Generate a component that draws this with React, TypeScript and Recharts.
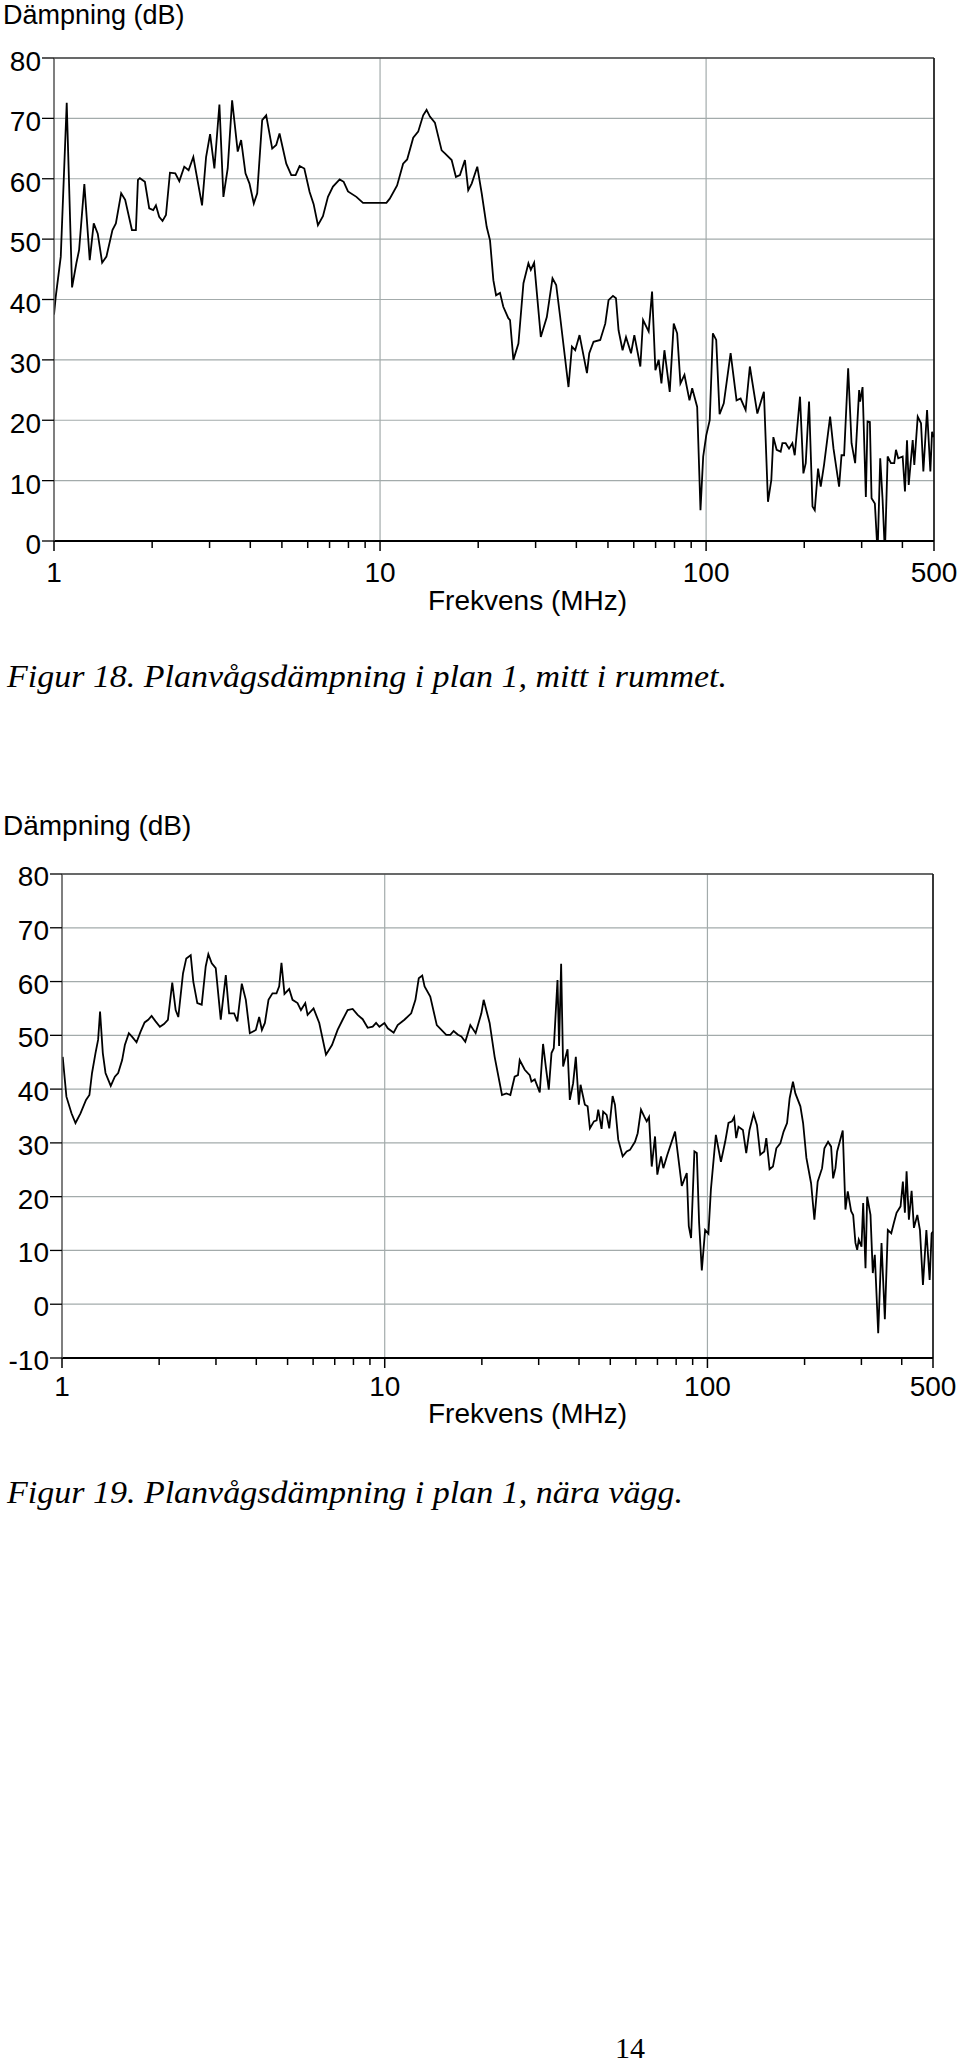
import { LineChart, Line, XAxis, YAxis, CartesianGrid, ReferenceLine } from 'recharts';

const SANS = '"Liberation Sans", Arial, sans-serif';
const SERIF = '"Liberation Serif", "Times New Roman", serif';

// x axis ticks (MHz), labelled ones and the minor ones
const xMajor = [1, 10, 100, 500];
const xTicks = [1, 2, 3, 4, 5, 6, 7, 8, 9, 10, 20, 30, 40, 50, 60, 70, 80, 90, 100, 200, 300, 400, 500];
const yTicks18 = [0, 10, 20, 30, 40, 50, 60, 70, 80];
const yTicks19 = [-10, 0, 10, 20, 30, 40, 50, 60, 70, 80];

// Figur 18 - mitt i rummet
const freq18 = [
  1.0, 1.012, 1.049, 1.094, 1.136, 1.171, 1.194, 1.239, 1.287, 1.324,
  1.362, 1.405, 1.448, 1.511, 1.548, 1.607, 1.653, 1.734, 1.783, 1.809,
  1.834, 1.9, 1.959, 2.015, 2.054, 2.102, 2.152, 2.205, 2.268, 2.355,
  2.423, 2.509, 2.587, 2.675, 2.845, 2.927, 3.011, 3.104, 3.216, 3.308,
  3.41, 3.518, 3.66, 3.749, 3.866, 3.977, 4.1, 4.2, 4.35, 4.475,
  4.669, 4.803, 4.917, 5.157, 5.343, 5.508, 5.666, 5.857, 6.081, 6.256,
  6.449, 6.681, 6.922, 7.171, 7.519, 7.735, 7.974, 8.462, 8.866, 10.46,
  10.71, 11.28, 11.77, 12.11, 12.64, 13.09, 13.56, 13.89, 14.22, 14.73,
  15.45, 15.81, 16.58, 17.09, 17.58, 18.21, 18.64, 19.1, 19.87, 20.5,
  21.24, 21.74, 22.26, 22.69, 23.33, 23.88, 24.74, 25.04, 25.64, 26.57,
  27.53, 28.51, 29.0, 29.69, 31.12, 32.47, 33.8, 34.69, 35.68, 37.84,
  38.77, 39.68, 40.91, 43.11, 43.82, 45.16, 47.35, 49.06, 50.21, 51.8,
  52.91, 53.89, 55.44, 56.8, 58.85, 60.24, 62.85, 64.07, 66.66, 68.28,
  69.9, 71.55, 72.94, 74.5, 77.35, 79.57, 81.51, 83.43, 85.83, 88.92,
  90.64, 93.89, 96.11, 97.97, 100.1, 102.6, 104.9, 107.4, 110.0, 113.3,
  118.9, 124.0, 127.6, 132.2, 136.2, 143.6, 150.4, 154.8, 158.5, 160.8,
  164.6, 169.3, 171.4, 175.4, 179.6, 183.9, 187.0, 194.1, 198.8, 202.1,
  206.9, 212.0, 215.4, 220.5, 224.7, 230.0, 240.1, 245.9, 255.8, 260.2,
  265.0, 272.7, 279.3, 286.5, 294.7, 296.8, 301.9, 309.0, 312.7, 317.9,
  321.7, 329.3, 335.7, 342.0, 347.8, 353.5, 360.4, 368.9, 377.6, 382.2,
  388.4, 400.7, 407.3, 413.2, 418.2, 430.2, 435.1, 445.7, 456.2, 463.8,
  476.1, 487.3, 493.2, 499.2,
];
const db18 = [
  37.5, 40.4, 47.1, 72.6, 42.0, 46.0, 48.2, 59.1, 46.5, 52.6,
  50.9, 46.1, 47.1, 51.5, 52.6, 57.6, 56.5, 51.5, 51.5, 59.8,
  60.1, 59.5, 55.1, 54.8, 55.6, 53.7, 53.0, 54.0, 61.0, 60.9,
  59.6, 62.0, 61.4, 63.6, 55.6, 63.6, 67.4, 61.7, 72.3, 57.0,
  61.7, 73.0, 64.5, 66.4, 60.9, 59.2, 55.9, 57.6, 69.7, 70.5,
  65.0, 65.6, 67.5, 62.5, 60.6, 60.6, 62.1, 61.7, 57.8, 55.8,
  52.3, 53.8, 57.0, 58.7, 59.9, 59.5, 57.9, 57.0, 56.0, 56.0,
  56.7, 58.9, 62.5, 63.2, 66.8, 67.8, 70.5, 71.4, 70.3, 69.3,
  64.7, 64.2, 63.1, 60.3, 60.6, 63.1, 58.1, 59.2, 62.0, 57.6,
  52.0, 49.8, 43.2, 40.7, 41.1, 38.8, 36.9, 36.6, 30.0, 32.7,
  42.7, 46.0, 44.9, 46.1, 33.8, 37.1, 43.5, 42.4, 37.1, 25.5,
  32.2, 31.6, 34.1, 27.8, 31.1, 33.0, 33.3, 36.0, 39.9, 40.6,
  40.2, 34.9, 31.6, 33.8, 31.1, 34.1, 28.9, 36.6, 34.7, 41.3,
  28.3, 30.0, 26.1, 31.6, 24.7, 36.0, 34.4, 26.1, 27.5, 23.3,
  25.3, 22.2, 5.1, 14.0, 17.5, 20.0, 34.4, 33.3, 21.0, 22.8,
  31.1, 23.3, 23.6, 21.7, 28.9, 21.1, 24.7, 6.5, 10.1, 17.2,
  15.1, 14.8, 16.2, 16.2, 15.3, 16.2, 14.2, 23.9, 11.2, 12.9,
  23.1, 5.7, 5.1, 12.0, 9.0, 12.6, 20.6, 15.3, 9.0, 14.2,
  14.2, 28.6, 16.2, 12.9, 25.0, 23.1, 25.5, 7.3, 19.8, 19.7,
  7.1, 6.2, -2, 13.7, 6.8, -2, 14.0, 12.9, 12.9, 15.1,
  13.7, 14.0, 8.2, 16.7, 9.3, 16.7, 12.6, 20.6, 19.5, 11.5,
  21.7, 11.5, 18.1, 17.2,
];

// Figur 19 - nära vägg
const freq19 = [
  1.005, 1.032, 1.07, 1.101, 1.141, 1.187, 1.216, 1.239, 1.27, 1.294,
  1.312, 1.338, 1.364, 1.416, 1.458, 1.493, 1.536, 1.566, 1.611, 1.65,
  1.702, 1.752, 1.803, 1.85, 1.895, 1.95, 2.011, 2.07, 2.129, 2.196,
  2.25, 2.293, 2.371, 2.427, 2.505, 2.552, 2.626, 2.71, 2.788, 2.841,
  2.911, 2.995, 3.104, 3.218, 3.295, 3.414, 3.494, 3.607, 3.712, 3.819,
  3.987, 4.083, 4.163, 4.253, 4.364, 4.49, 4.62, 4.71, 4.787, 4.891,
  5.058, 5.18, 5.369, 5.501, 5.673, 5.768, 6.019, 6.269, 6.577, 6.865,
  7.145, 7.406, 7.675, 7.955, 8.245, 8.545, 8.856, 9.177, 9.404, 9.627,
  9.979, 10.22, 10.66, 10.97, 11.51, 12.08, 12.45, 12.75, 13.07, 13.29,
  13.84, 14.5, 15.51, 15.97, 16.35, 16.86, 17.28, 17.77, 18.42, 19.13,
  19.93, 20.26, 21.14, 21.91, 23.09, 23.82, 24.51, 25.27, 25.88, 26.2,
  27.16, 28.14, 28.49, 29.17, 30.23, 30.95, 31.56, 32.24, 32.87, 33.41,
  34.31, 34.7, 35.21, 35.71, 36.86, 37.46, 38.36, 39.1, 39.95, 40.44,
  41.71, 42.53, 43.23, 44.49, 45.36, 45.88, 46.99, 47.53, 48.71, 49.63,
  50.84, 51.69, 52.92, 54.62, 56.2, 57.54, 59.64, 60.8, 62.25, 63.73,
  64.84, 65.91, 67.2, 68.81, 69.94, 71.81, 73.01, 75.13, 79.38, 83.28,
  86.3, 87.54, 88.99, 91.12, 92.71, 94.24, 96.07, 98.37, 100.7, 102.5,
  106.2, 110.1, 113.5, 116.2, 119.1, 121.0, 122.8, 124.8, 128.8, 131.9,
  135.0, 139.0, 142.4, 145.8, 150.0, 152.2, 155.8, 159.6, 163.5, 168.2,
  172.2, 176.5, 179.8, 184.1, 187.3, 194.1, 197.9, 202.6, 209.5, 214.5,
  219.6, 226.6, 230.4, 236.5, 241.7, 245.2, 249.3, 252.3, 262.6, 267.7,
  272.2, 278.8, 282.9, 287.5, 291.1, 294.4, 300.2, 303.8, 308.9, 312.6,
  320.1, 325.4, 330.1, 338.2, 346.3, 354.6, 362.2, 371.2, 378.1, 385.5,
  396.7, 403.3, 409.1, 414.1, 421.0, 429.2, 436.4, 447.1, 455.5, 465.4,
  476.9, 488.2, 495.2, 500,
];
const db19 = [
  46.0, 38.6, 35.5, 33.7, 35.5, 38.0, 38.9, 43.0, 46.7, 49.2,
  54.4, 46.7, 43.0, 40.6, 42.3, 43.0, 45.4, 48.2, 50.4, 49.7,
  48.7, 50.7, 52.4, 52.9, 53.6, 52.6, 51.6, 52.1, 52.9, 59.8,
  54.7, 53.4, 61.5, 64.3, 64.9, 60.0, 56.0, 55.7, 62.8, 65.1,
  63.4, 62.5, 52.9, 61.2, 54.1, 54.1, 52.6, 59.6, 56.6, 50.4,
  51.0, 53.4, 51.0, 52.3, 56.6, 57.8, 57.8, 59.1, 63.5, 57.7,
  58.6, 56.6, 56.0, 54.7, 56.0, 53.8, 55.0, 52.3, 46.4, 48.2,
  51.0, 52.9, 54.7, 54.9, 53.8, 53.0, 51.4, 51.6, 52.3, 51.6,
  52.3, 51.3, 50.5, 51.9, 52.9, 54.1, 56.6, 60.6, 61.1, 59.1,
  57.2, 51.9, 50.1, 50.1, 50.8, 50.1, 49.8, 48.8, 51.9, 50.4,
  54.1, 56.6, 52.3, 46.0, 38.9, 39.2, 38.9, 42.3, 42.6, 45.4,
  43.6, 42.6, 41.4, 41.8, 39.4, 48.4, 44.2, 39.9, 46.7, 47.6,
  60.3, 48.0, 63.3, 44.2, 47.4, 38.0, 41.1, 46.0, 37.1, 40.8,
  37.1, 36.8, 32.7, 34.0, 34.2, 36.2, 32.6, 35.8, 35.2, 32.7,
  38.7, 37.1, 30.6, 27.5, 28.4, 28.7, 30.2, 31.8, 36.2, 34.9,
  34.0, 34.8, 25.6, 31.2, 24.1, 27.5, 25.3, 27.8, 32.1, 22.0,
  24.4, 14.5, 12.3, 28.4, 28.1, 15.1, 6.3, 13.8, 13.1, 21.3,
  31.5, 26.5, 30.2, 33.7, 34.0, 34.8, 30.9, 33.0, 32.4, 28.1,
  32.4, 35.4, 33.3, 27.8, 28.4, 30.9, 25.1, 25.6, 29.0, 29.9,
  32.1, 33.7, 38.3, 41.4, 39.2, 36.8, 33.7, 27.2, 22.5, 15.7,
  22.8, 25.3, 29.0, 30.2, 29.3, 23.4, 25.3, 28.4, 32.3, 17.6,
  21.0, 17.3, 16.6, 11.4, 10.1, 12.0, 10.7, 18.8, 6.7, 20.0,
  16.6, 5.8, 9.2, -5.4, 11.4, -2.8, 13.8, 13.2, 15.1, 17.0,
  18.2, 22.8, 17.0, 24.7, 15.7, 21.1, 14.2, 16.6, 13.8, 3.6,
  13.8, 4.5, 13.2, 13.5,
];

const data18 = freq18.map((f, i) => ({ f, v: db18[i] }));
const data19 = freq19.map((f, i) => ({ f, v: db19[i] }));

const XTick = (props: any) => {
  const { x, y, payload, lblDy } = props;
  const major = xMajor.includes(payload.value);
  return (
    <g>
      <line x1={x} y1={y} x2={x} y2={y + (major ? 10 : 7)} stroke="#000" strokeWidth={1.5} />
      {major && (
        <text x={x} y={y + lblDy} textAnchor="middle" fontSize={28} fontFamily={SANS} fill="#000">
          {payload.value}
        </text>
      )}
    </g>
  );
};

const YTick = (props: any) => {
  const { x, y, payload, lblDy } = props;
  return (
    <g>
      <line x1={x - 12} y1={y} x2={x} y2={y} stroke="#000" strokeWidth={1.3} />
      <text x={x - 13} y={y + lblDy} textAnchor="end" fontSize={28} fontFamily={SANS} fill="#000">
        {payload.value}
      </text>
    </g>
  );
};

interface PlotProps {
  data: { f: number; v: number }[];
  top: number;
  margin: { top: number; right: number; bottom: number; left: number };
  yWidth: number;
  xHeight: number;
  yDomain: [number, number];
  yTicks: number[];
  xDy: number;
  yDy: number;
}

const GRID = '#a3abab';

const Plot = ({ data, top, margin, yWidth, xHeight, yDomain, yTicks, xDy, yDy }: PlotProps) => (
  <div style={{ position: 'absolute', left: 0, top }}>
    <LineChart width={960} height={620} data={data} margin={margin}>
      <CartesianGrid vertical={false} stroke={GRID} strokeWidth={1.2} />
      <ReferenceLine x={10} stroke={GRID} strokeWidth={1.2} />
      <ReferenceLine x={100} stroke={GRID} strokeWidth={1.2} />
      <ReferenceLine y={yDomain[1]} stroke="#444" strokeWidth={1.6} />
      <ReferenceLine x={500} stroke="#222" strokeWidth={1.8} />
      <XAxis
        dataKey="f"
        type="number"
        scale="log"
        domain={[1, 500]}
        ticks={xTicks}
        interval={0}
        allowDataOverflow
        height={xHeight}
        tickSize={0}
        tickMargin={0}
        tickLine={false}
        axisLine={{ stroke: '#000', strokeWidth: 2 }}
        tick={<XTick lblDy={xDy} />}
      />
      <YAxis
        type="number"
        domain={yDomain}
        ticks={yTicks}
        interval={0}
        allowDataOverflow
        width={yWidth}
        tickSize={0}
        tickMargin={0}
        tickLine={false}
        axisLine={{ stroke: '#555', strokeWidth: 1.5 }}
        tick={<YTick lblDy={yDy} />}
      />
      <Line type="linear" dataKey="v" stroke="#000" strokeWidth={1.8} dot={false} isAnimationActive={false} />
    </LineChart>
  </div>
);

export default function App() {
  return (
    <div style={{ position: 'absolute', left: 0, top: 0, width: 960, height: 2068, background: '#fff' }}>
      <svg width={960} height={2068} style={{ position: 'absolute', left: 0, top: 0 }}>
        <text x={3} y={24} fontSize={27} fontFamily={SANS} fill="#000">Dämpning (dB)</text>
        <text x={428} y={610} fontSize={28} fontFamily={SANS} fill="#000">Frekvens (MHz)</text>
        <text x={7} y={687} fontSize={32} fontStyle="italic" fontFamily={SERIF} fill="#000" textLength={720} lengthAdjust="spacingAndGlyphs">
          Figur 18. Planvågsdämpning i plan 1, mitt i rummet.
        </text>
        <text x={3} y={835} fontSize={28} fontFamily={SANS} fill="#000">Dämpning (dB)</text>
        <text x={428} y={1423} fontSize={28} fontFamily={SANS} fill="#000">Frekvens (MHz)</text>
        <text x={7} y={1503} fontSize={32} fontStyle="italic" fontFamily={SERIF} fill="#000" textLength={676} lengthAdjust="spacingAndGlyphs">
          Figur 19. Planvågsdämpning i plan 1, nära vägg.
        </text>
        <text x={630} y={2058} textAnchor="middle" fontSize={30} fontFamily={SERIF} fill="#000">14</text>
      </svg>
      <Plot
        data={data18}
        top={0}
        margin={{ top: 58, right: 26, bottom: 19, left: 0 }}
        yWidth={54}
        xHeight={60}
        yDomain={[0, 80]}
        yTicks={yTicks18}
        xDy={41}
        yDy={13}
      />
      <Plot
        data={data19}
        top={800}
        margin={{ top: 74, right: 27, bottom: 12, left: 0 }}
        yWidth={62}
        xHeight={50}
        yDomain={[-10, 80]}
        yTicks={yTicks19}
        xDy={38}
        yDy={12}
      />
    </div>
  );
}
